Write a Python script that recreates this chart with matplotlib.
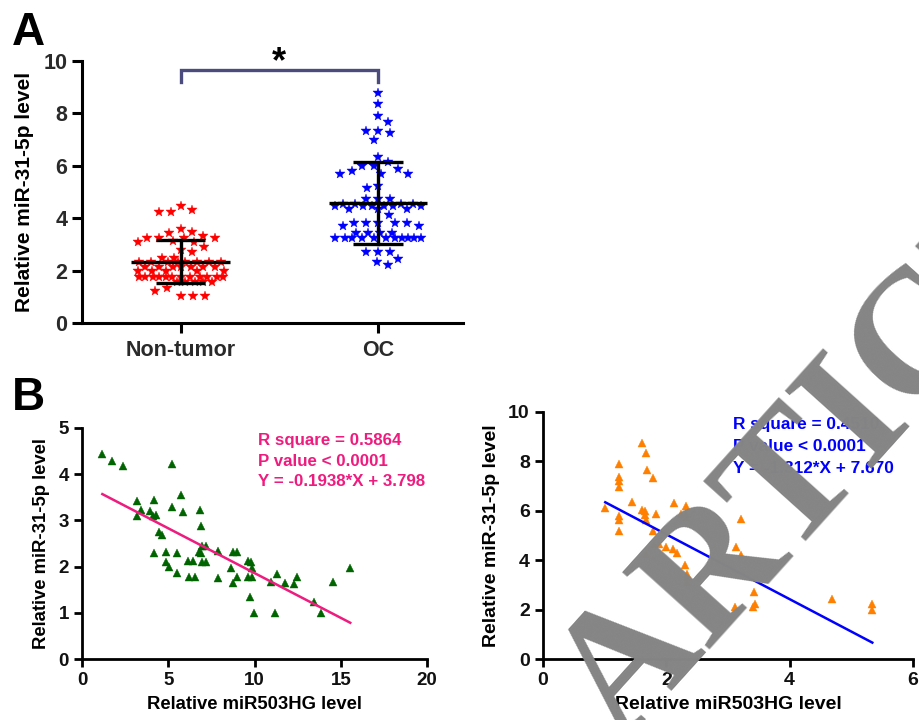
import numpy as np
import matplotlib
matplotlib.use('Agg')
import matplotlib.pyplot as plt

plt.rcParams['font.family'] = ['Liberation Sans', 'DejaVu Sans']
plt.rcParams['font.weight'] = 'bold'

# ---------------- Panel A data ----------------
groups = ['Non-tumor', 'OC']
nontumor = ([1.76] * 12 + [2.15] * 7 + [2.34] * 8 + [1.97] * 5 + [1.56] * 5 +
            [2.48, 2.48, 2.70, 2.79, 2.89, 3.10, 3.10, 3.13, 3.23, 3.23, 3.23, 3.23,
             3.32, 3.45, 3.46, 3.57, 4.22, 4.25, 4.31, 4.47, 1.35, 1.22, 1.03, 1.03, 1.03])
oc = ([3.24] * 11 + [4.47] * 6 + [4.56] * 4 + [3.80] * 5 + [3.42] * 4 + [4.36] * 3 +
      [3.71, 3.71, 4.72, 4.72, 4.72, 5.67, 5.67, 5.67, 4.12, 5.24, 5.14,
       5.99, 5.99, 5.89, 5.80, 6.35, 6.13, 6.98, 7.34, 7.34, 7.24, 7.68, 7.91, 8.36, 8.77,
       2.72, 2.72, 2.72, 2.44, 2.34, 2.21])
group_colors = ['#FF0000', '#0000FF']

# ---------------- Panel B (left) data ----------------
hg_left = [1.18, 1.76, 2.38, 5.20, 3.19, 3.42, 3.19, 3.94, 4.19, 4.10, 4.29, 5.72, 5.20,
           5.86, 6.84, 6.88, 4.48, 4.62, 4.19, 4.87, 5.49, 4.85, 5.06, 5.49, 6.16, 6.43,
           6.18, 6.53, 6.76, 6.96, 7.21, 6.90, 6.96, 7.19, 7.87, 7.87, 8.73, 8.97, 8.64,
           8.75, 8.97, 9.64, 9.78, 9.86, 9.64, 9.86, 9.74, 9.95, 11.21, 10.94, 11.32,
           11.77, 12.31, 12.44, 13.45, 13.87, 14.55, 15.55]
mir_left = [4.44, 4.29, 4.18, 4.21, 3.43, 3.23, 3.10, 3.20, 3.44, 3.10, 3.11, 3.55, 3.28,
            3.19, 3.22, 2.88, 2.74, 2.68, 2.29, 2.32, 2.30, 2.10, 2.00, 1.86, 2.12, 2.12,
            1.77, 1.77, 2.32, 2.45, 2.45, 2.29, 2.11, 2.11, 2.33, 1.76, 2.31, 2.31, 1.96,
            1.65, 1.77, 2.13, 2.11, 1.97, 1.77, 1.77, 1.34, 1.00, 1.00, 1.66, 1.85,
            1.64, 1.62, 1.78, 1.23, 1.00, 1.66, 1.97]
fit_left = [-0.1938, 3.798]
stats_left = ['R square = 0.5864', 'P value < 0.0001', 'Y = -0.1938*X + 3.798']

# ---------------- Panel B (right) data ----------------
hg_right = [1.01, 1.23, 1.23, 1.24, 1.23, 1.23, 1.23, 1.23, 1.45, 1.61, 1.67, 1.68, 1.79,
            1.61, 1.66, 1.65, 1.67, 1.84, 1.78, 2.13, 2.32, 2.23, 2.32, 2.32, 3.21, 1.80,
            1.88, 1.99, 2.11, 2.17, 1.67, 3.13, 3.21, 2.30, 2.33, 2.34, 2.34, 3.12, 3.40,
            3.44, 3.42, 4.68, 5.34, 5.34]
mir_right = [6.12, 7.88, 7.35, 7.22, 6.95, 5.78, 5.63, 5.18, 6.35, 8.76, 8.35, 7.65, 7.31,
             6.02, 6.00, 5.83, 5.63, 5.86, 5.20, 6.33, 6.21, 5.87, 5.87, 5.74, 5.66, 4.66,
             4.66, 4.52, 4.45, 4.30, 4.26, 4.55, 4.21, 3.82, 3.44, 3.30, 3.13, 2.12, 2.12,
             2.21, 2.72, 2.44, 2.21, 1.98]
fit_right = [-1.312, 7.670]
stats_right = ['R square = 0.4510', 'P value < 0.0001', 'Y = -1.312*X + 7.670']

W, H = 919, 720
fig = plt.figure(figsize=(W / 100, H / 100), dpi=100)


def frac(x0, y0, x1, y1):
    return [x0 / W, 1 - y1 / H, (x1 - x0) / W, (y1 - y0) / H]


def style(ax, lw=2.0, tl=6.5, fs=13, color='#111111'):
    for s in ['top', 'right']:
        ax.spines[s].set_visible(False)
    for s in ['left', 'bottom']:
        ax.spines[s].set_linewidth(lw)
        ax.spines[s].set_color('black')
    ax.tick_params(width=lw, length=tl, labelsize=fs, labelcolor=color, color='black')
    for lab in ax.get_xticklabels() + ax.get_yticklabels():
        lab.set_fontweight('bold')


def swarm_offsets(vals, ppu_y, w, h, wmax):
    """Beeswarm layout in pixels: elliptical exclusion zone, limited column width."""
    vals = np.asarray(vals, float)
    order = np.argsort(-vals, kind='stable')
    grid = np.arange(-wmax, wmax + 0.01, 0.5)
    grid = grid[np.argsort(np.abs(grid), kind='stable')]
    placed_x, placed_y = [], []
    offs = np.zeros(len(vals))
    for n, i in enumerate(order):
        y = vals[i] * ppu_y
        if placed_x:
            px = np.array(placed_x)
            py = np.array(placed_y)
            sel = np.abs(py - y) < h
            px, py = px[sel], py[sel]
        else:
            px = np.array([])
            py = np.array([])
        if len(px) == 0:
            best = 0.0
        else:
            g = grid if n % 2 == 0 else -grid
            d = np.sqrt(((g[:, None] - px[None, :]) / w) ** 2 +
                        ((y - py[None, :]) / h) ** 2).min(axis=1)
            okk = np.where(d >= 1)[0]
            best = g[okk[0]] if len(okk) else g[np.argmax(d)]
        placed_x.append(best)
        placed_y.append(y)
        offs[i] = best
    return offs


# ================= Panel A =================
axA = fig.add_axes(frac(82, 61, 463, 323))
ppu_y = (323 - 61) / 10.0
ppu_x = 377 - 180
for i, vals in enumerate([nontumor, oc]):
    offs = swarm_offsets(vals, ppu_y, 11.7, 10.0, 43.0) / ppu_x
    axA.plot(i + offs, vals, linestyle='none', marker='*', ms=7.8,
             color=group_colors[i], mec=group_colors[i], mew=0.3, zorder=2)
    m = np.mean(vals)
    sd = np.std(vals, ddof=1)
    axA.plot([i - 0.25, i + 0.25], [m, m], color='black', lw=2.4, zorder=3,
             solid_capstyle='butt')
    axA.plot([i, i], [m - sd, m + sd], color='black', lw=2.4, zorder=3)
    for yy in (m - sd, m + sd):
        axA.plot([i - 0.125, i + 0.125], [yy, yy], color='black', lw=2.4, zorder=3,
                 solid_capstyle='butt')

axA.set_xlim(-0.5, 1.43)
axA.set_ylim(0, 10)
axA.set_yticks([0, 2, 4, 6, 8, 10])
axA.set_xticks([0, 1])
axA.set_xticklabels(groups)
style(axA, lw=2.2, tl=7, fs=15.5, color='#2a2a2a')
axA.tick_params(axis='x', pad=5)
axA.set_ylabel('Relative miR-31-5p level', fontsize=15, fontweight='bold', labelpad=7)
# significance bracket
axA.plot([0, 0, 1, 1], [9.18, 9.66, 9.66, 9.18], color='#4B4B7E', lw=2.4,
         clip_on=False, solid_joinstyle='miter')
axA.text(0.5, 9.28, '*', ha='center', va='bottom', fontsize=26, fontweight='bold',
         color='black', clip_on=False)

fig.text(12 / W, 1 - 45 / H, 'A', fontsize=33, fontweight='bold', ha='left', va='baseline')
fig.text(12 / W, 1 - 410 / H, 'B', fontsize=33, fontweight='bold', ha='left', va='baseline')

# ================= Panel B left =================
axL = fig.add_axes(frac(82, 428, 427, 659))
axL.plot(hg_left, mir_left, linestyle='none', marker='^', ms=6.2, color='#006400',
         mec='#006400', mew=0.3, zorder=2)
xl = np.array([min(hg_left), max(hg_left)])
axL.plot(xl, fit_left[0] * xl + fit_left[1], color='#EE1C7E', lw=1.8, zorder=3)
axL.set_xlim(0, 20)
axL.set_ylim(0, 5)
axL.set_xticks([0, 5, 10, 15, 20])
axL.set_yticks([0, 1, 2, 3, 4, 5])
style(axL, lw=2.0, tl=6, fs=13.5, color='#111111')
axL.set_xlabel('Relative miR503HG level', fontsize=13.3, fontweight='bold', labelpad=5)
axL.set_ylabel('Relative miR-31-5p level', fontsize=13.3, fontweight='bold', labelpad=6)
for k, (t, yf) in enumerate(zip(stats_left, [0.948, 0.857, 0.768])):
    axL.text(0.51, yf, t, transform=axL.transAxes, color='#EE1C7E', fontsize=12.2,
             fontweight='bold', ha='left', va='center')

# ================= Panel B right =================
axR = fig.add_axes(frac(543, 412, 913, 659))
axR.plot(hg_right, mir_right, linestyle='none', marker='^', ms=6.2, color='#FF8000',
         mec='#FF8000', mew=0.3, zorder=2)
xr = np.array([min(hg_right), max(hg_right)])
axR.plot(xr, fit_right[0] * xr + fit_right[1], color='#0000FF', lw=1.8, zorder=3)
axR.set_xlim(0, 6)
axR.set_ylim(0, 10)
axR.set_xticks([0, 2, 4, 6])
axR.set_yticks([0, 2, 4, 6, 8, 10])
style(axR, lw=2.0, tl=6, fs=14, color='#111111')
axR.set_xlabel('Relative miR503HG level', fontsize=14, fontweight='bold', labelpad=5)
axR.set_ylabel('Relative miR-31-5p level', fontsize=14, fontweight='bold', labelpad=6)
for k, (t, yf) in enumerate(zip(stats_right, [0.951, 0.862, 0.772])):
    axR.text(0.513, yf, t, transform=axR.transAxes, color='#0000FF', fontsize=12.4,
             fontweight='bold', ha='left', va='center')

# ================= Watermark =================
theta = 48
wm_color = '#858585'
wm_size = 128
px, py = 621, 746
fig.text(px / W, 1 - py / H, 'ARTICLE', fontsize=wm_size, family='Liberation Serif',
         color=wm_color, rotation=theta, rotation_mode='anchor', ha='left',
         va='baseline', fontweight='bold', zorder=10)
sp = 0.25 * wm_size * 100 / 72
bx, by = np.cos(np.radians(theta)), -np.sin(np.radians(theta))
fig.text((px - sp * bx) / W, 1 - (py - sp * by) / H, 'RETRACTED', fontsize=wm_size,
         family='Liberation Serif', color=wm_color, rotation=theta,
         rotation_mode='anchor', ha='right', va='baseline', fontweight='bold', zorder=10)

fig.savefig('out.png', dpi=100)
